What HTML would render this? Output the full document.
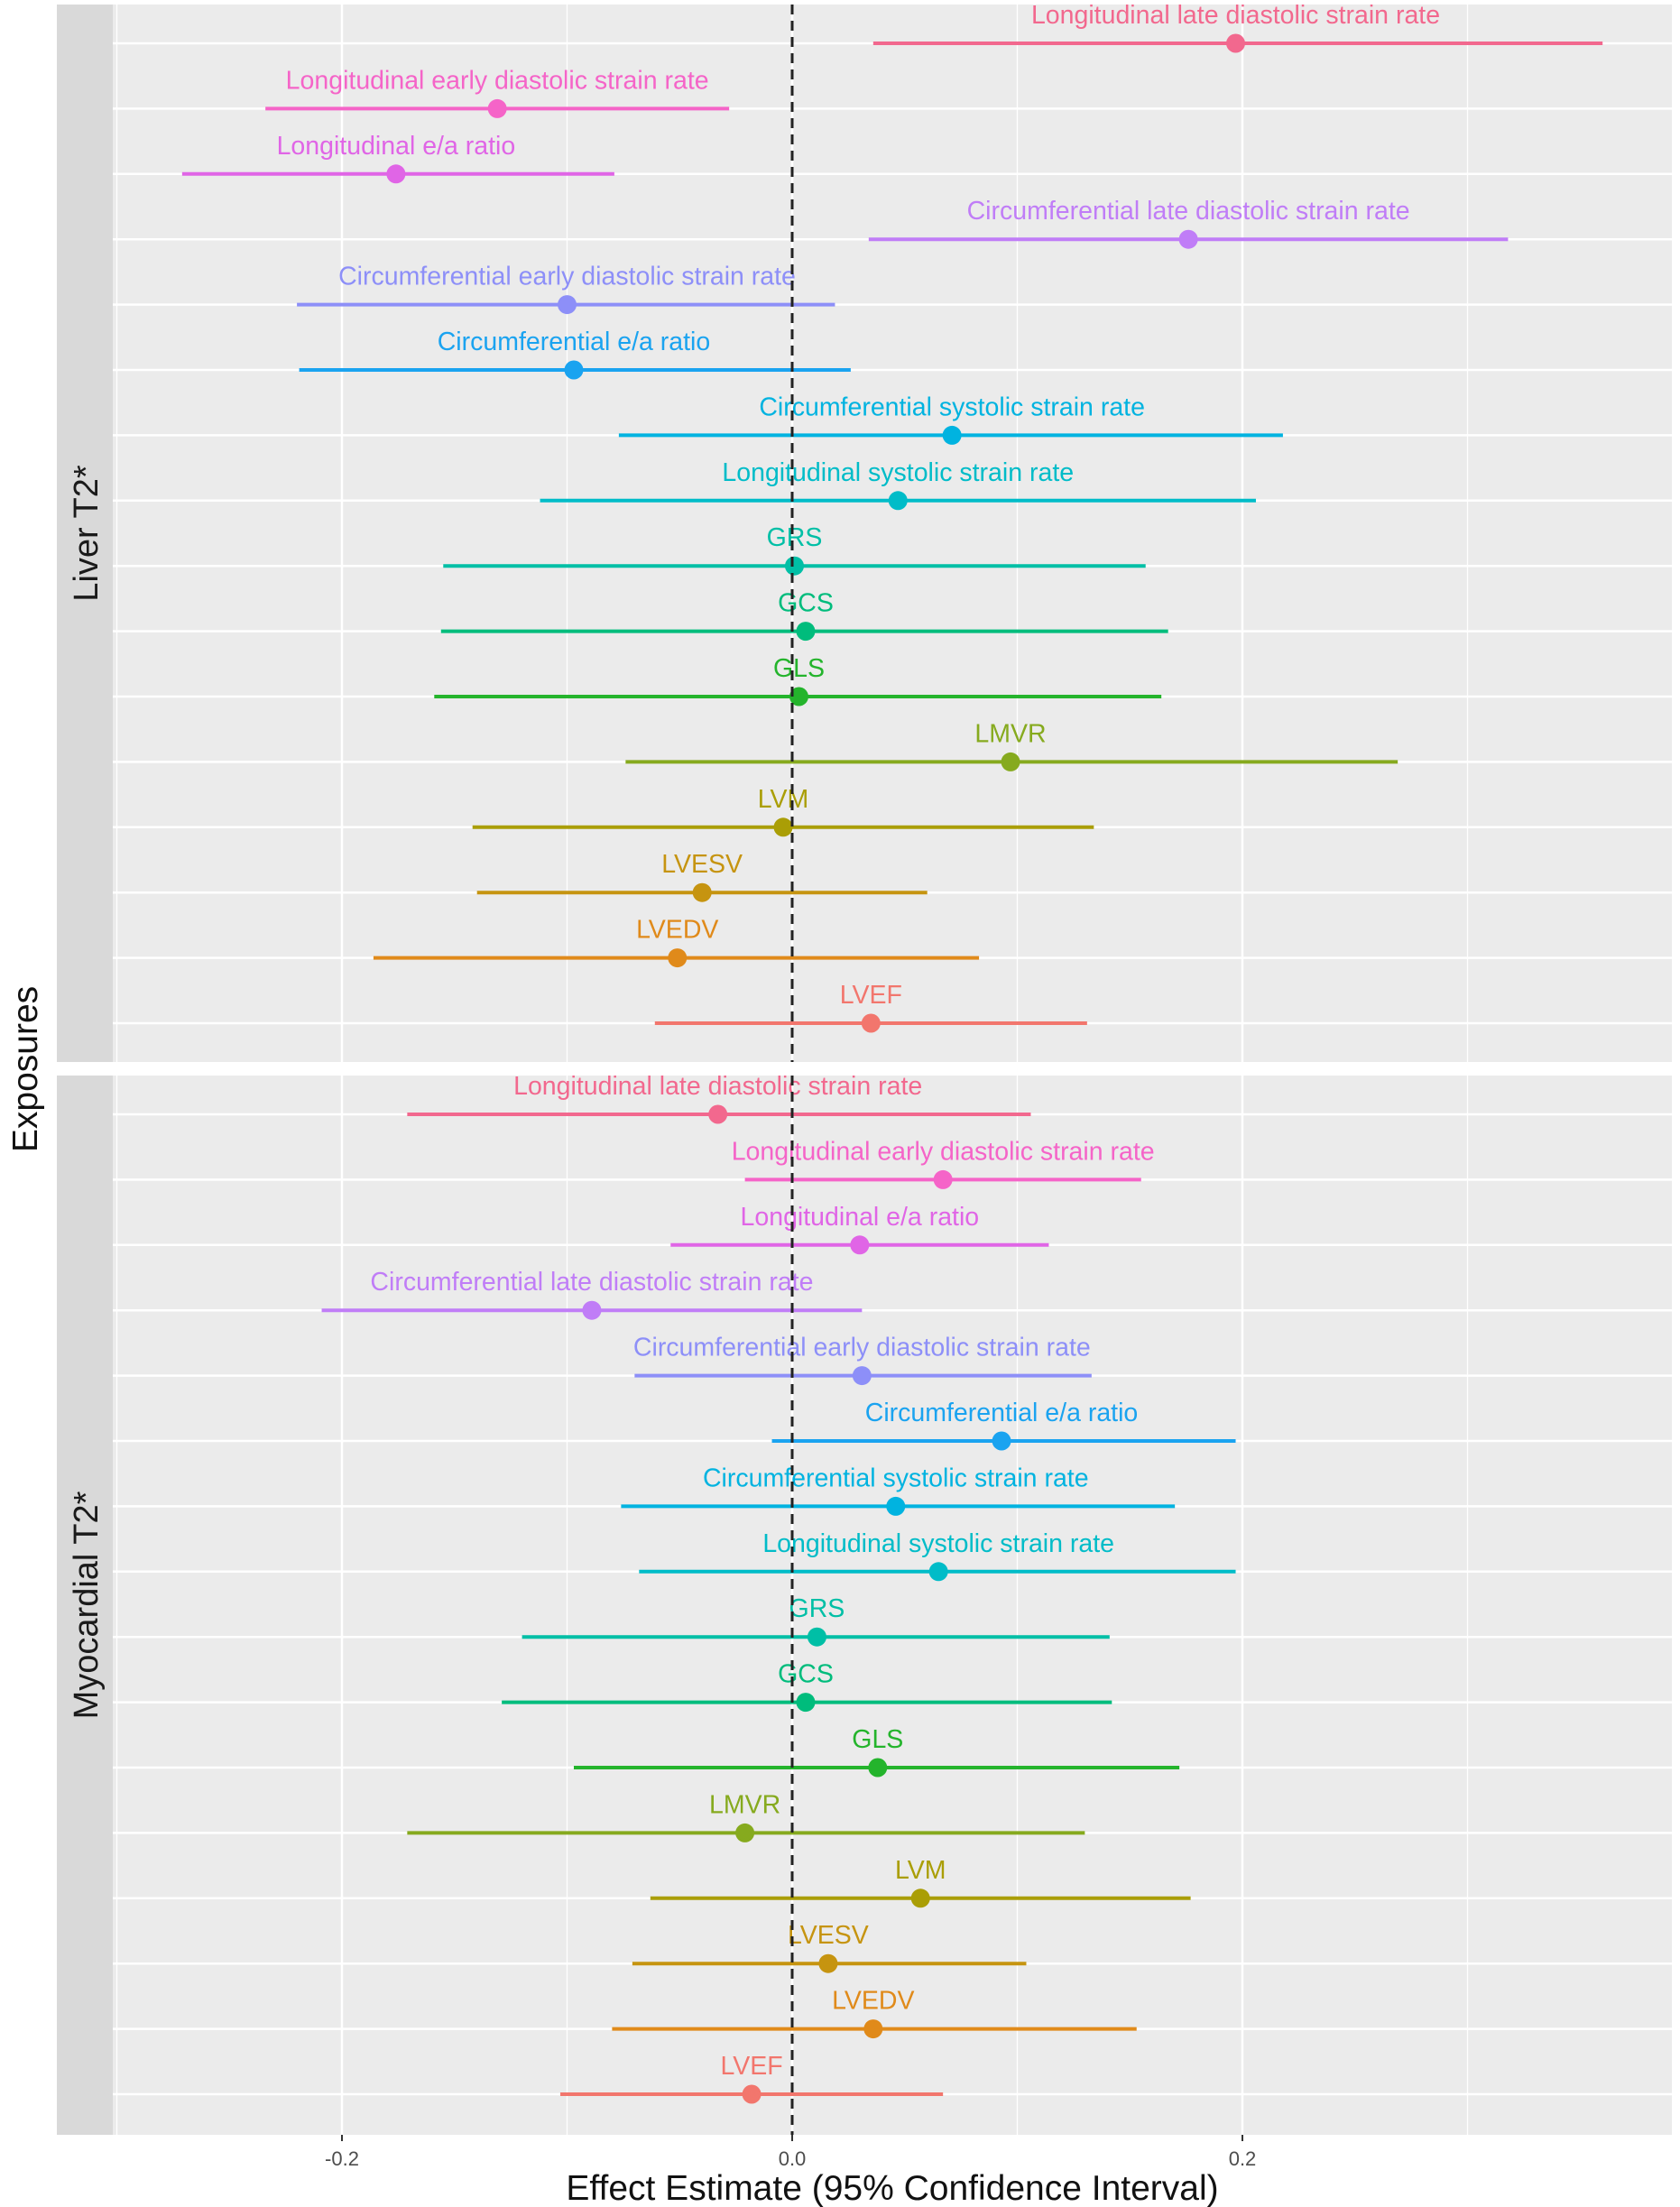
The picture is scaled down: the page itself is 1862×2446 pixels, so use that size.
<!DOCTYPE html>
<html><head><meta charset="utf-8"><style>
html,body{margin:0;padding:0;background:#fff;}
svg{display:block;font-family:"Liberation Sans",Arial,sans-serif;}
</style></head><body>
<svg id="chart" width="1862" height="2446" viewBox="0 0 1862 2446" xmlns="http://www.w3.org/2000/svg"></svg>
<script>
const labels = ["Longitudinal late diastolic strain rate","Longitudinal early diastolic strain rate","Longitudinal e/a ratio","Circumferential late diastolic strain rate","Circumferential early diastolic strain rate","Circumferential e/a ratio","Circumferential systolic strain rate","Longitudinal systolic strain rate","GRS","GCS","GLS","LMVR","LVM","LVESV","LVEDV","LVEF"];
const colors = ["#F2688E","#F564C8","#E065E6","#C07DF7","#8D8FF8","#1AA3F0","#00B3E0","#00BCC8","#00BFA6","#00BC7C","#24B42C","#86AA1E","#AA9E06","#C69410","#E08A1A","#F2766D"];
const panels = ["Liver T2*","Myocardial T2*"];
const liverEst = [0.197,-0.131,-0.176,0.176,-0.100,-0.097,0.071,0.047,0.001,0.006,0.003,0.097,-0.004,-0.040,-0.051,0.035];
const liverLo  = [0.036,-0.234,-0.271,0.034,-0.220,-0.219,-0.077,-0.112,-0.155,-0.156,-0.159,-0.074,-0.142,-0.140,-0.186,-0.061];
const liverHi  = [0.360,-0.028,-0.079,0.318,0.019,0.026,0.218,0.206,0.157,0.167,0.164,0.269,0.134,0.060,0.083,0.131];
const myoEst = [-0.033,0.067,0.030,-0.089,0.031,0.093,0.046,0.065,0.011,0.006,0.038,-0.021,0.057,0.016,0.036,-0.018];
const myoLo  = [-0.171,-0.021,-0.054,-0.209,-0.070,-0.009,-0.076,-0.068,-0.120,-0.129,-0.097,-0.171,-0.063,-0.071,-0.080,-0.103];
const myoHi  = [0.106,0.155,0.114,0.031,0.133,0.197,0.170,0.197,0.141,0.142,0.172,0.130,0.177,0.104,0.153,0.067];
const xTicks = [-0.2,0,0.2];
const xTickLabels = ["-0.2","0.0","0.2"];
const xMinor = [-0.3,-0.1,0.1,0.3];

const svg = document.getElementById('chart');
const NS = 'http://www.w3.org/2000/svg';
const PL = 125, PR = 1853;
const x = v => 878 + v * 2495;
const panelBox = [{top:5,bottom:1177},{top:1192,bottom:2366}];
const rowY = (p, i) => (p === 0 ? 48 : 1235) + i * 72.4;
function mk(tag, attrs, parent){const e=document.createElementNS(NS,tag);for(const k in attrs)e.setAttribute(k,attrs[k]);(parent||svg).appendChild(e);return e;}

const sets = [[liverEst,liverLo,liverHi],[myoEst,myoLo,myoHi]];
panels.forEach((pn, p) => {
  const b = panelBox[p];
  const g = mk('g', {});
  
  
  const strip = mk('rect', {x:63,y:b.top,width:PL-63,height:b.bottom-b.top,fill:'#D9D9D9'}, g);
  
  
  const st = mk('text', {x:0,y:0,'font-size':38,fill:'#1a1a1a','text-anchor':'middle',transform:`translate(108,${(b.top+b.bottom)/2}) rotate(-90)`}, g);
  st.textContent = pn;
  
  
  const bg = mk('rect', {x:PL,y:b.top,width:PR-PL,height:b.bottom-b.top,fill:'#EBEBEB'}, g);
  
  
  xMinor.forEach(v => { const l = mk('line', {x1:x(v),x2:x(v),y1:b.top,y2:b.bottom,stroke:'#fff','stroke-width':1.3}, g);
      });
  xTicks.forEach(v => { const l = mk('line', {x1:x(v),x2:x(v),y1:b.top,y2:b.bottom,stroke:'#fff','stroke-width':2.5}, g);
      });
  labels.forEach((lb, i) => { const l = mk('line', {x1:PL,x2:PR,y1:rowY(p,i),y2:rowY(p,i),stroke:'#fff','stroke-width':2.5}, g);
      });
  const [est, lo, hi] = sets[p];
  labels.forEach((lb, i) => {
    const y = rowY(p, i);
    const ci = mk('line', {x1:x(lo[i]),x2:x(hi[i]),y1:y,y2:y,stroke:colors[i],'stroke-width':4}, g);
    
    
    const pt = mk('circle', {cx:x(est[i]),cy:y,r:10.5,fill:colors[i]}, g);
    
    
    const t = mk('text', {x:x(est[i]),y:y-22,'font-size':28.5,fill:colors[i],'text-anchor':'middle'}, g);
    t.textContent = lb;
    
    
  });
  const z = mk('line', {x1:x(0),x2:x(0),y1:b.top,y2:b.bottom,stroke:'#222','stroke-width':3,'stroke-dasharray':'11 7'}, g);
  
  
});

xTicks.forEach((v, i) => {
  const tk = mk('line', {x1:x(v),x2:x(v),y1:2366,y2:2373,stroke:'#333','stroke-width':2});
  
  
  const t = mk('text', {x:x(v),y:2400,'font-size':22,fill:'#4d4d4d','text-anchor':'middle'});
  t.textContent = xTickLabels[i];
  
  
});
const xt = mk('text', {x:989,y:2438,'font-size':39,fill:'#111','text-anchor':'middle'});
xt.textContent = 'Effect Estimate (95% Confidence Interval)';


const yt = mk('text', {x:0,y:0,'font-size':39,fill:'#111','text-anchor':'middle',transform:'translate(41,1185) rotate(-90)'});
yt.textContent = 'Exposures';


</script>
</body></html>
